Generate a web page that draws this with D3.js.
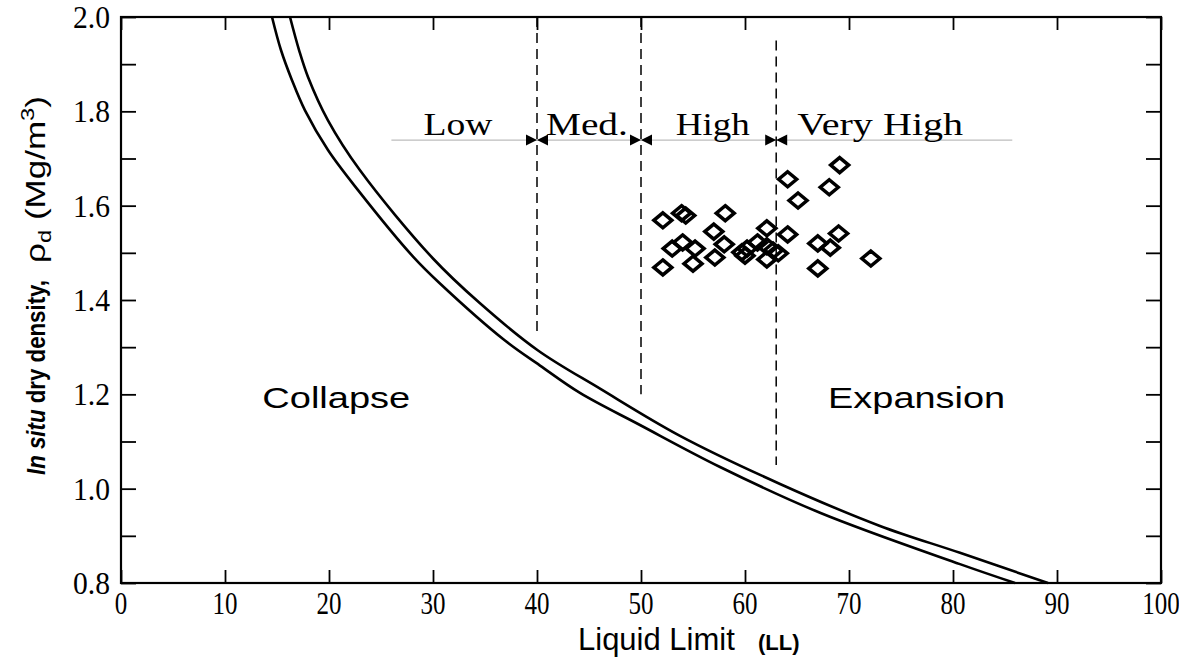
<!DOCTYPE html>
<html>
<head>
<meta charset="utf-8">
<script src="https://cdn.jsdelivr.net/npm/d3@7"></script>
<style>
  html, body { margin: 0; padding: 0; background: #fff; }
  svg { display: block; }
</style>
</head>
<body>
<svg id="chart" width="1179" height="658"></svg>
<script>
// Boundary curves (liquid limit vs. in situ dry density)
const innerLL  = [14.52, 15.38, 16.44, 17.69, 19.90, 22.79, 28.08, 30.67, 36.92, 40.29, 44.13, 49.90, 57.60, 67.21, 80.67, 85.96];
const innerRho = [2.000, 1.930, 1.866, 1.802, 1.718, 1.633, 1.492, 1.435, 1.314, 1.261, 1.203, 1.135, 1.046, 0.949, 0.840, 0.800];
const outerLL  = [16.25, 17.12, 17.98, 19.90, 22.98, 30.00, 34.52, 40.10, 46.06, 53.75, 63.37, 72.98, 80.67, 89.13];
const outerRho = [2.000, 1.930, 1.873, 1.781, 1.675, 1.488, 1.393, 1.293, 1.212, 1.112, 1.010, 0.921, 0.864, 0.800];

// Measured samples
const sampleLL  = [69.1, 64.1, 68.1, 65.1, 52.1, 53.9, 54.3, 58.1, 57.0, 62.1, 64.1, 69.0, 53.0, 54.0, 55.2, 58.0,
                   60.2, 61.2, 62.1, 67.0, 68.2, 52.1, 55.0, 57.1, 60.0, 62.1, 63.2, 67.0, 72.1, 59.7, 62.7];
const sampleRho = [1.686, 1.656, 1.639, 1.611, 1.569, 1.584, 1.579, 1.584, 1.545, 1.552, 1.539, 1.541, 1.509, 1.522, 1.509, 1.518,
                   1.509, 1.522, 1.514, 1.520, 1.511, 1.469, 1.477, 1.490, 1.494, 1.486, 1.499, 1.467, 1.488, 1.501, 1.505];

// Swelling potential classes
const classNames  = ["Low", "Med.", "High", "Very High"];
const classCenter = [32.4, 44.8, 56.9, 73.0];
const classWidth  = [69, 82, 74, 166];
const classBounds = [40, 50, 63];
const boundTop    = [2.0, 2.0, 1.95];
const boundBottom = [1.33, 1.20, 1.05];
const classLineRho = 1.739;
const classLineLL  = [26, 85.7];

// Region labels
const regionNames = ["Collapse", "Expansion"];
const regionLL    = [20.7, 76.5];
const regionRho   = 1.170;
const regionWidth = [148, 177];

// Axis ticks
const xTicks = [0, 10, 20, 30, 40, 50, 60, 70, 80, 90, 100];
const xTickLabels = ["0", "10", "20", "30", "40", "50", "60", "70", "80", "90", "100"];
const yMajor = [0.8, 1.0, 1.2, 1.4, 1.6, 1.8, 2.0];
const yMajorLabels = ["0.8", "1.0", "1.2", "1.4", "1.6", "1.8", "2.0"];
const yMinor = [0.9, 1.1, 1.3, 1.5, 1.7, 1.9];

const svg = d3.select("#chart");
const x = d3.scaleLinear().domain([0, 100]).range([121, 1161]);
const y = d3.scaleLinear().domain([0.8, 2.0]).range([583, 17]);

const serif = "'Liberation Serif', 'Times New Roman', serif";
const sans = "'Liberation Sans', Arial, sans-serif";

// Frame
svg.append("rect")
  .attr("x", x(0)).attr("y", y(2.0))
  .attr("width", x(100) - x(0)).attr("height", y(0.8) - y(2.0))
  .attr("fill", "none").attr("stroke", "#000").attr("stroke-width", 2.2);

function styleTicks(g) {
  g.select(".domain").remove();
  g.selectAll(".tick line").attr("stroke", "#000").attr("stroke-width", 1.8);
  g.selectAll(".tick text").remove();
}

// Inward ticks on all four sides
svg.append("g").attr("transform", `translate(0,${y(0.8)})`)
  .call(d3.axisBottom(x).tickValues(xTicks).tickFormat("").tickSizeInner(-13).tickSizeOuter(0))
  .call(styleTicks);
svg.append("g").attr("transform", `translate(0,${y(2.0)})`)
  .call(d3.axisTop(x).tickValues(xTicks).tickFormat("").tickSizeInner(-13).tickSizeOuter(0))
  .call(styleTicks);
svg.append("g").attr("transform", `translate(${x(0)},0)`)
  .call(d3.axisLeft(y).tickValues(yMajor.concat(yMinor)).tickFormat("").tickSizeInner(-15).tickSizeOuter(0))
  .call(styleTicks);
svg.append("g").attr("transform", `translate(${x(100)},0)`)
  .call(d3.axisRight(y).tickValues(yMajor.concat(yMinor)).tickFormat("").tickSizeInner(-15).tickSizeOuter(0))
  .call(styleTicks);

// Tick labels (narrow, tall serif digits)
svg.append("g").selectAll("text").data(xTicks).join("text")
  .attr("x", d => x(d)).attr("y", y(0.8) + 31)
  .attr("text-anchor", "middle")
  .attr("font-family", serif).attr("font-size", 31).attr("fill", "#000")
  .attr("textLength", (d, i) => 12.5 * xTickLabels[i].length).attr("lengthAdjust", "spacingAndGlyphs")
  .text((d, i) => xTickLabels[i]);
svg.append("g").selectAll("text").data(yMajor).join("text")
  .attr("x", x(0) - 11).attr("y", d => y(d) + 11)
  .attr("text-anchor", "end")
  .attr("font-family", serif).attr("font-size", 32).attr("fill", "#000")
  .attr("textLength", 37).attr("lengthAdjust", "spacingAndGlyphs")
  .text((d, i) => yMajorLabels[i]);

// Class divider line
svg.append("line")
  .attr("x1", x(classLineLL[0])).attr("x2", x(classLineLL[1]))
  .attr("y1", y(classLineRho)).attr("y2", y(classLineRho))
  .attr("stroke", "#bdbdbd").attr("stroke-width", 1.2);

// Dashed class boundaries
svg.selectAll("line.bound").data(classBounds).join("line")
  .attr("class", "bound")
  .attr("x1", d => x(d)).attr("x2", d => x(d))
  .attr("y1", (d, i) => y(boundTop[i])).attr("y2", (d, i) => y(boundBottom[i]))
  .attr("stroke", "#000").attr("stroke-width", 1.5).attr("stroke-dasharray", "10,6");

// Opposing arrowheads on each boundary
svg.selectAll("path.bowtie").data(classBounds).join("path")
  .attr("class", "bowtie")
  .attr("d", d => {
    const cx = x(d), cy = y(classLineRho), w = 11, h = 5.5;
    const p = d3.path();
    p.moveTo(cx - w, cy - h); p.lineTo(cx, cy); p.lineTo(cx - w, cy + h); p.closePath();
    p.moveTo(cx + w, cy - h); p.lineTo(cx, cy); p.lineTo(cx + w, cy + h); p.closePath();
    return p.toString();
  })
  .attr("fill", "#000");

// Class names
svg.selectAll("text.cls").data(classNames).join("text")
  .attr("class", "cls")
  .attr("x", (d, i) => x(classCenter[i])).attr("y", y(classLineRho) - 5)
  .attr("text-anchor", "middle")
  .attr("font-family", serif).attr("font-size", 31)
  .attr("textLength", (d, i) => classWidth[i]).attr("lengthAdjust", "spacingAndGlyphs")
  .text(d => d);

// Region names
svg.selectAll("text.region").data(regionNames).join("text")
  .attr("class", "region")
  .attr("x", (d, i) => x(regionLL[i])).attr("y", y(regionRho))
  .attr("text-anchor", "middle")
  .attr("font-family", sans).attr("font-size", 30)
  .attr("textLength", (d, i) => regionWidth[i]).attr("lengthAdjust", "spacingAndGlyphs")
  .text(d => d);

// Boundary curves
const line = d3.line().x(d => x(d[0])).y(d => y(d[1])).curve(d3.curveCatmullRom.alpha(0.5));
svg.append("path").datum(innerLL.map((v, i) => [v, innerRho[i]]))
  .attr("d", line).attr("fill", "none").attr("stroke", "#000").attr("stroke-width", 2.6);
svg.append("path").datum(outerLL.map((v, i) => [v, outerRho[i]]))
  .attr("d", line).attr("fill", "none").attr("stroke", "#000").attr("stroke-width", 2.6);

// Sample markers (open diamonds)
svg.selectAll("path.sample").data(sampleLL).join("path")
  .attr("class", "sample")
  .attr("d", (d, i) => {
    const cx = x(d), cy = y(sampleRho[i]), rx = 9, ry = 7.5;
    return `M${cx},${cy - ry}L${cx + rx},${cy}L${cx},${cy + ry}L${cx - rx},${cy}Z`;
  })
  .attr("fill", "none").attr("stroke", "#000").attr("stroke-width", 3.5).attr("stroke-linejoin", "miter");

// X axis title
const xt = svg.append("text")
  .attr("x", 578).attr("y", 650)
  .attr("text-anchor", "start").attr("font-family", sans).attr("fill", "#000");
xt.append("tspan").attr("font-size", 31).text("Liquid Limit");
xt.append("tspan").attr("x", 758).attr("font-size", 22).attr("font-weight", "bold").text("(LL)");

// Y axis title
const yg = svg.append("g").attr("transform", `translate(45,${(y(0.8) + y(2.0)) / 2})rotate(-90)`);
const yt1 = yg.append("text")
  .attr("x", -175).attr("y", 0)
  .attr("font-family", sans).attr("font-size", 26).attr("font-weight", "bold")
  .attr("textLength", 195).attr("lengthAdjust", "spacingAndGlyphs");
yt1.append("tspan").attr("font-style", "italic").text("In situ");
yt1.append("tspan").text(" dry density,");
const yt2 = yg.append("text")
  .attr("x", 37).attr("y", 0)
  .attr("font-family", sans).attr("font-size", 28)
  .attr("textLength", 167).attr("lengthAdjust", "spacingAndGlyphs");
yt2.append("tspan").text("ρ");
yt2.append("tspan").attr("font-size", 19).attr("dy", 6).text("d");
yt2.append("tspan").attr("dy", -6).text(" (Mg/m");
yt2.append("tspan").attr("font-size", 19).attr("dy", -11).text("3");
yt2.append("tspan").attr("dy", 11).text(")");
</script>
</body>
</html>
